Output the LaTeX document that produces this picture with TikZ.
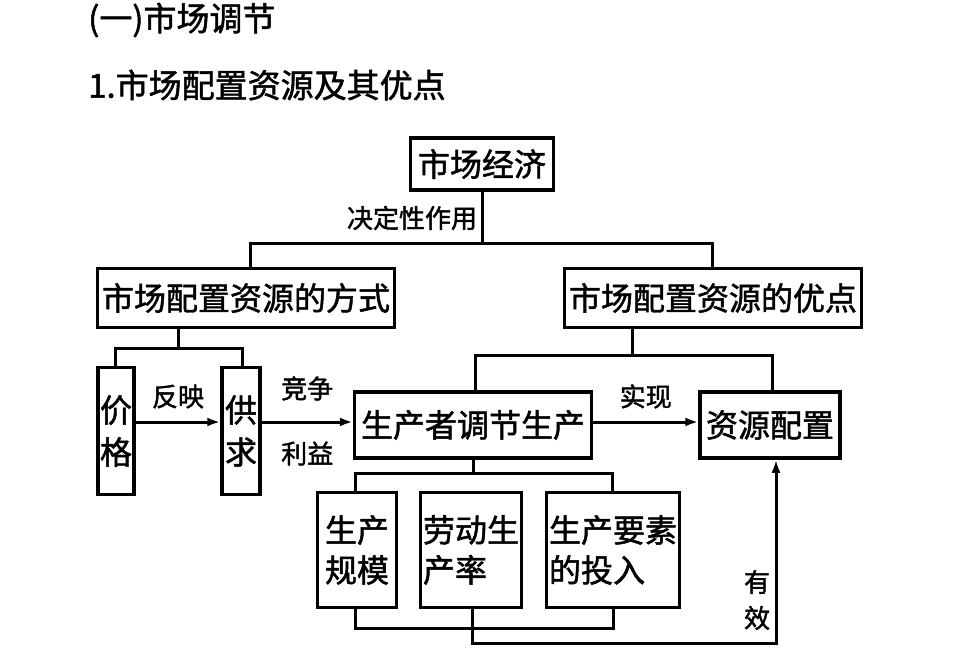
\documentclass[tikz,border=0pt]{standalone}
\usepackage{fontspec}
\usetikzlibrary{arrows.meta}
\setmainfont{Noto Sans CJK SC}[FakeBold=1.5]
\begin{document}
\begin{tikzpicture}[x=1pt,y=-1pt,
  bx/.style={draw,line width=3.5pt,inner sep=0pt,font=\fontsize{32}{36}\selectfont},
  ln/.style={line width=3pt},
  ar/.style={line width=3pt,-{Latex[length=13pt,width=9pt]}},
  lb/.style={font=\fontsize{26}{30}\selectfont,inner sep=0pt}]
\useasboundingbox (0,0) rectangle (960,655);
\node[anchor=west,font=\fontsize{33}{37}\selectfont,inner sep=0pt] (t1) at (88,20) {(一)市场调节};
\node[anchor=west,font=\fontsize{33}{37}\selectfont,inner sep=0pt] (t2) at (88,85) {1.市场配置资源及其优点};
\node[bx,minimum width=143,minimum height=52] (jj) at (482,164) {市场经济};
\node[lb] (jd) at (412,218) {决定性作用};
\node[bx,minimum width=297,minimum height=59] (fs) at (246,298) {市场配置资源的方式};
\node[bx,minimum width=297,minimum height=59] (yd) at (713,298) {市场配置资源的优点};
\node[bx,minimum width=36,minimum height=127,align=center] (jg) at (116,431) {价\\[6pt]格};
\node[bx,minimum width=38,minimum height=127,align=center] (gq) at (241,431) {供\\[6pt]求};
\node[bx,minimum width=237,minimum height=66] (sc) at (473,425) {生产者调节生产};
\node[bx,minimum width=140,minimum height=66] (zy) at (770,425) {资源配置};
\node[bx,minimum width=79,minimum height=115,align=left] (gm) at (357,550) {生产\\[4pt]规模};
\node[bx,minimum width=101,minimum height=115,align=left] (ld) at (471,550) {劳动生\\[4pt]产率};
\node[bx,minimum width=133,minimum height=115,align=left] (tr) at (613,550) {生产要素\\[4pt]的投入};
\coordinate (c1) at (482,243);
\draw[ln] (jj.south) -- (c1);
\draw[ln] (fs.north -| 250,0) |- (712,243) -- (yd.north -| 712,0);
\draw[ln] (fs.south -| 178,0) -- (178,348);
\draw[ln] (jg.north -| 115,0) |- (242,348) -- (gq.north -| 242,0);
\draw[ar] (jg.east |- 0,422) -- (gq.west |- 0,422) node[lb,midway,above=12pt] {反映};
\draw[ar] (gq.east |- 0,422) -- (sc.west |- 0,422) node[lb,midway,above=20pt] {竞争} node[lb,midway,below=18pt] {利益};
\draw[ar] (sc.east |- 0,422) -- (zy.west |- 0,422) node[lb,midway,above=12pt] {实现};
\draw[ln] (yd.south -| 632,0) -- (632,355);
\draw[ln] (sc.north -| 475,0) |- (772,355) -- (zy.north -| 772,0);
\draw[ln] (sc.south) -- (473,473);
\draw[ln] (gm.north -| 355,0) |- (612,473) -- (tr.north -| 612,0);
\draw[ln] (gm.south -| 355,0) |- (613,628) -- (tr.south -| 613,0);
\draw[ar] (ld.south -| 472,0) |- (776,643) -- (zy.south -| 776,0);
\node[lb,align=center] (yx) at (757,600) {有\\[6pt]效};
\end{tikzpicture}
\end{document}
